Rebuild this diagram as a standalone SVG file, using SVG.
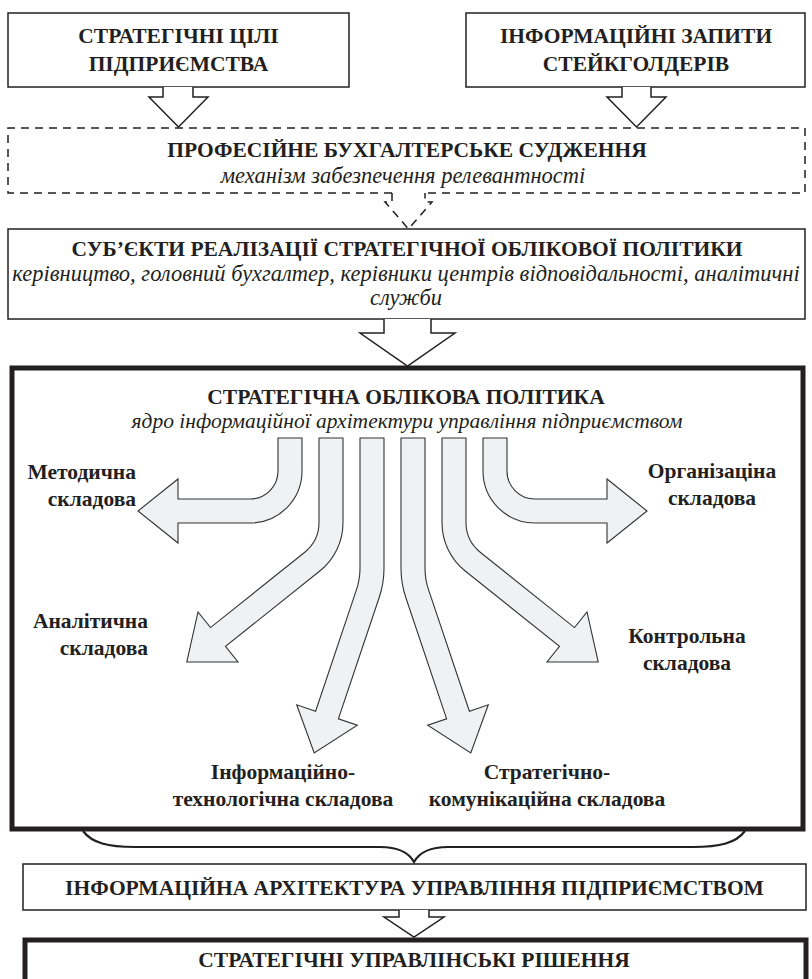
<svg xmlns="http://www.w3.org/2000/svg" width="812" height="979" viewBox="0 0 812 979">
<style>
.b{font-family:"Liberation Serif","Times New Roman",serif;font-weight:bold;font-size:21.5px;fill:#231f20;text-anchor:middle}
.i{font-family:"Liberation Serif","Times New Roman",serif;font-style:italic;font-size:22.5px;fill:#231f20;text-anchor:middle}
.s{font-size:21.5px}
.e{text-anchor:end}
.box{fill:#fff;stroke:#231f20;stroke-width:1.5}
.thick{fill:#fff;stroke:#231f20;stroke-width:5}
.dash{fill:none;stroke:#231f20;stroke-width:1.5;stroke-dasharray:8 6}
.hollow{fill:#fff;stroke:#231f20;stroke-width:1.5}
.flow{fill:#f0f1f3;stroke:#333;stroke-width:1.1;stroke-linejoin:miter}
.brace{fill:none;stroke:#231f20;stroke-width:2.2}
</style>
<rect x="0" y="0" width="812" height="979" fill="#fff"/>

<g id="goals">
<rect class="box" x="8" y="13" width="341" height="74"/>
<text class="b" x="178.5" y="43">СТРАТЕГІЧНІ ЦІЛІ</text>
<text class="b" x="178.5" y="71">ПІДПРИЄМСТВА</text>
</g>
<g id="requests">
<rect class="box" x="466" y="13" width="339" height="74"/>
<text class="b" x="636" y="43">ІНФОРМАЦІЙНІ ЗАПИТИ</text>
<text class="b" x="636" y="71">СТЕЙКГОЛДЕРІВ</text>
</g>
<g id="judgement">
<path class="dash" d="M392,193 H8 V128 H805 V193 H425"/>
<text class="b" x="407" y="157">ПРОФЕСІЙНЕ БУХГАЛТЕРСЬКЕ СУДЖЕННЯ</text>
<text class="i" x="403" y="183">механізм забезпечення релевантності</text>
</g>
<g id="subjects">
<rect class="box" x="8" y="229" width="797" height="90"/>
<text class="b" x="407" y="256">СУБ’ЄКТИ РЕАЛІЗАЦІЇ СТРАТЕГІЧНОЇ ОБЛІКОВОЇ ПОЛІТИКИ</text>
<text class="i" x="406" y="281">керівництво, головний бухгалтер, керівники центрів відповідальності, аналітичні</text>
<text class="i" x="406" y="305">служби</text>
</g>
<g id="policy">
<rect class="thick" x="12" y="368" width="791" height="461"/>
<text class="b" x="406" y="404">СТРАТЕГІЧНА ОБЛІКОВА ПОЛІТИКА</text>
<text class="i s" x="407" y="428">ядро інформаційної архітектури управління підприємством</text>
</g>
<g id="methodical">
<text class="b e" x="136" y="479">Методична</text>
<text class="b e" x="136" y="506">складова</text>
</g>
<g id="organisational">
<text class="b" x="712" y="478">Організаціна</text>
<text class="b" x="712" y="505">складова</text>
</g>
<g id="analytical">
<text class="b e" x="148" y="628">Аналітична</text>
<text class="b e" x="148" y="655">складова</text>
</g>
<g id="control">
<text class="b" x="687" y="643">Контрольна</text>
<text class="b" x="687" y="670">складова</text>
</g>
<g id="it">
<text class="b" x="283" y="779">Інформаційно-</text>
<text class="b" x="283" y="806">технологічна складова</text>
</g>
<g id="communication">
<text class="b" x="547" y="779">Стратегічно-</text>
<text class="b" x="547" y="806">комунікаційна складова</text>
</g>
<g id="architecture">
<rect class="box" x="23" y="864" width="783" height="46"/>
<text class="b" x="414.5" y="895">ІНФОРМАЦІЙНА АРХІТЕКТУРА УПРАВЛІННЯ ПІДПРИЄМСТВОМ</text>
</g>
<g id="decisions">
<rect class="thick" x="25" y="940" width="781" height="70"/>
<text class="b" x="414" y="967">СТРАТЕГІЧНІ УПРАВЛІНСЬКІ РІШЕННЯ</text>
</g>

<g id="connectors">
<path class="hollow" d="M163,87 V97 H149 L178.5,127 L208,97 H193 V87"/>
<path class="hollow" d="M622,87 V97 H607 L636.5,127 L666,97 H651 V87"/>
<path class="dash" d="M392,193 V202 H385 L408.5,229 L432,202 H425 V193"/>
<path class="hollow" d="M384,319 V333 H360 L407.5,366 L455,333 H431 V319"/>

<path class="flow" d="M278,438 H302 V471 A52,52 0 0 1 250,523 H178 V543 L138,511 L178,479 V499 H250 A28,28 0 0 0 278,471 Z"/>
<path class="flow" d="M319,438 H343 V522.6 A62,62 0 0 1 319.8,571 L225.5,646.4 L238,662 L186.8,662 L198,612 L210.5,627.6 L304.8,552.2 A38,38 0 0 0 319,522.6 Z"/>
<path class="flow" d="M360,438 H384 V568.2 A92,92 0 0 1 379.2,597.5 L338.4,718.8 L357.3,725.2 L314.2,752.9 L296.7,704.8 L315.6,711.2 L356.4,589.9 A68,68 0 0 0 360,568.2 Z"/>
<path class="flow" d="M425,438 H401 V568.2 A92,92 0 0 0 405.8,597.5 L446.6,718.8 L427.7,725.2 L470.8,752.9 L488.3,704.8 L469.4,711.2 L428.6,589.9 A68,68 0 0 1 425,568.2 Z"/>
<path class="flow" d="M466,438 H442 V522.6 A62,62 0 0 0 465.2,571 L559.5,646.4 L547,662 L598.2,662 L587,612 L574.5,627.6 L480.2,552.2 A38,38 0 0 1 466,522.6 Z"/>
<path class="flow" d="M507,438 H483 V471 A52,52 0 0 0 535,523 H607 V543 L647,511 L607,479 V499 H535 A28,28 0 0 1 507,471 Z"/>

<path class="brace" d="M83,831 C92,843 108,847 135,847 L380,847 C400,847 409,853 414,862 C419,853 428,847 448,847 L693,847 C720,847 736,843 745,831"/>
<path class="hollow" d="M399,910 V917 H384 L414,937 L444,917 H429 V910"/>
</g>
</svg>
